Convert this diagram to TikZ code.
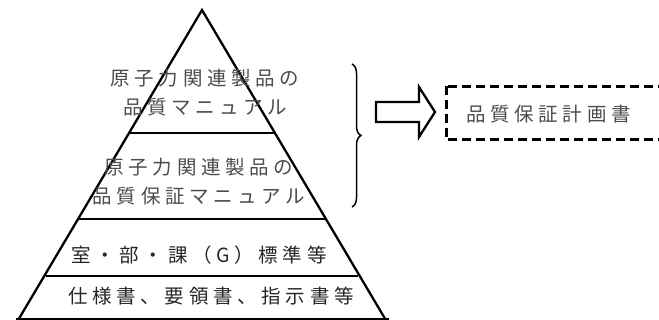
\documentclass[tikz,border=0pt]{standalone}
\usepackage{fontspec}
\newfontfamily\jpfont{Noto Sans CJK JP}
\usetikzlibrary{decorations.pathreplacing}
\begin{document}
\begin{tikzpicture}[x=1pt,y=-1pt,
  edge/.style={line width=2.3pt,line join=miter},
  jtext/.style={font=\jpfont\fontsize{19.5}{29}\selectfont\addfontfeature{LetterSpace=24},align=center,inner sep=0pt},
  soft/.style={text=black!70},
  hard/.style={text=black!85},
  dashline/.style={line width=3pt,dash pattern=on 9pt off 5pt}]
\useasboundingbox (0,0) rectangle (659,320);
\fill[white] (0,0) rectangle (659,320);
\begin{scope}
\clip (0,0) rectangle (659,320);
% pyramid
\coordinate (apex) at (202,10);
\coordinate (bl) at (17,322);
\coordinate (br) at (387,322);
\draw[edge] (bl) -- (apex) -- (br);
\draw[edge] (16,319) -- (389,319);
\draw[edge] (129,133) -- (275,133);
\draw[edge] (79,219) -- (325,219);
\draw[edge] (46,276) -- (358,276);
% texts
\node[jtext,soft] (t1) at (205,93) {原子力関連製品の\\品質マニュアル};
\node[jtext,soft] (t2) at (199,182) {原子力関連製品の\\品質保証マニュアル};
\node[jtext,hard] (t3) at (199,255) {室・部・課（G）標準等};
\node[jtext,hard] (t4) at (211,296) {仕様書、要領書、指示書等};
% brace
\coordinate (b1) at (352,64);
\coordinate (b2) at (352,207);
\draw[line width=1.5pt,decorate,decoration={brace,amplitude=9pt}] (b1) -- (b2);
% hollow arrow
\coordinate (a1) at (376,102);
\coordinate (a2) at (419,102);
\coordinate (a3) at (419,87);
\coordinate (a4) at (435,112);
\coordinate (a5) at (419,137);
\coordinate (a6) at (419,122);
\coordinate (a7) at (376,122);
\draw[edge] (a1) -- (a2) -- (a3) -- (a4) -- (a5) -- (a6) -- (a7) -- cycle;
% dashed box
\coordinate (d1) at (446,86);
\coordinate (d2) at (446,140);
\draw[dashline] (d1) -- (d2);
\draw[dashline] (448,87) -- (670,87);
\draw[dashline] (448,140) -- (670,140);
\node[jtext,soft,anchor=west] (t5) at (466,114) {品質保証計画書};
\end{scope}
\end{tikzpicture}
\end{document}
